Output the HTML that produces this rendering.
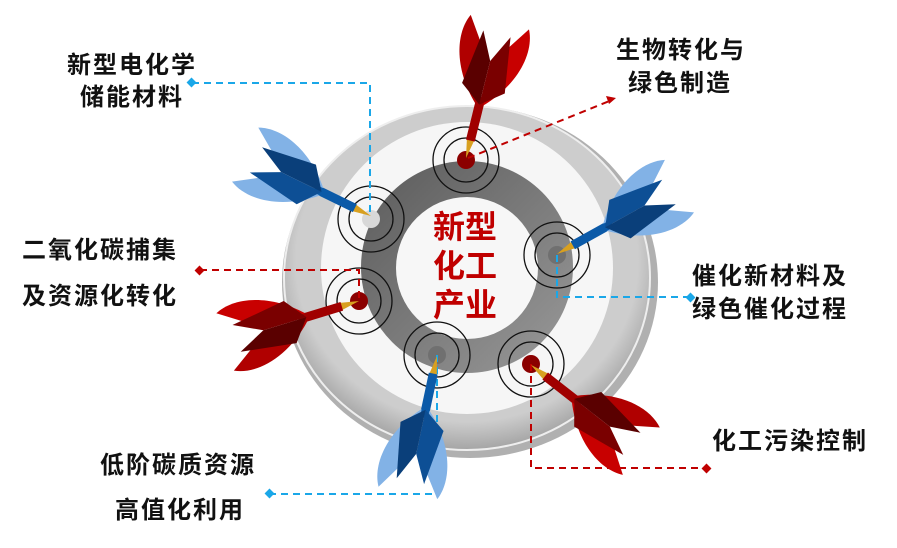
<!DOCTYPE html>
<html><head><meta charset="utf-8"><style>
html,body{margin:0;padding:0;background:#fff;}
svg{display:block}
.t{font-family:"Liberation Sans","Noto Sans CJK SC",sans-serif;font-weight:bold;font-size:24px;fill:#111;letter-spacing:2px}
.c{font-family:"Liberation Sans","Noto Sans CJK SC",sans-serif;font-weight:bold;font-size:32px;fill:#c00000}
</style></head><body>
<svg width="897" height="548" viewBox="0 0 897 548" xmlns="http://www.w3.org/2000/svg">
<defs>
<radialGradient id="outer" cx="50%" cy="45%" r="55%"><stop offset="0.85" stop-color="#cdcdcd"/><stop offset="1" stop-color="#a5a5a5"/></radialGradient>
<linearGradient id="dark" x1="0" y1="0" x2="1" y2="1"><stop offset="0" stop-color="#5a5a5a"/><stop offset="1" stop-color="#9a9a9a"/></linearGradient>
<g id="redDart">
<polygon points="0,0 20,-4 20,4" fill="#d8a020"/>
<rect x="18" y="-4.5" width="45" height="9" fill="#a00000"/>
<path d="M55,-4 C85,-34 120,-40 140,-30 L100,-3 Z" fill="#b00000"/>
<path d="M55,4 C85,34 120,40 140,30 L100,3 Z" fill="#c80000"/>
<path d="M55,0 L72,-22 L128,-14 L100,0 Z" fill="#5a0000"/>
<path d="M55,0 L72,22 L128,14 L100,0 Z" fill="#7a0000"/>
</g>
<g id="blueDart">
<polygon points="0,0 20,-4 20,4" fill="#d8a020"/>
<rect x="18" y="-4.5" width="45" height="9" fill="#0b5aa8"/>
<path d="M55,-4 C85,-34 120,-40 140,-30 L100,-3 Z" fill="#82b2e6"/>
<path d="M55,4 C85,34 120,40 140,30 L100,3 Z" fill="#82b2e6"/>
<path d="M55,0 L72,-22 L128,-14 L100,0 Z" fill="#0d4f95"/>
<path d="M55,0 L72,22 L128,14 L100,0 Z" fill="#0a3f7a"/>
</g>
</defs>
<ellipse cx="470" cy="282" rx="188" ry="176" fill="#b0b0b0"/>
<ellipse cx="467" cy="278" rx="183" ry="172" fill="url(#outer)" stroke="#eee" stroke-width="2"/>
<circle cx="467" cy="268" r="146" fill="#f6f6f6"/>
<circle cx="467" cy="267" r="106" fill="url(#dark)"/>
<circle cx="467" cy="268" r="71" fill="#f7f7f7"/>
<g fill="none" stroke="#111" stroke-width="1.3">
<circle cx="466" cy="160" r="33"/><circle cx="466" cy="160" r="22"/>
<circle cx="371" cy="219" r="33"/><circle cx="371" cy="219" r="22"/>
<circle cx="557" cy="255" r="33"/><circle cx="557" cy="255" r="22"/>
<circle cx="359" cy="301" r="33"/><circle cx="359" cy="301" r="22"/>
<circle cx="437" cy="355" r="33"/><circle cx="437" cy="355" r="22"/>
<circle cx="531" cy="364" r="33"/><circle cx="531" cy="364" r="22"/>
</g>
<circle cx="466" cy="160" r="9" fill="#8b0000"/>
<circle cx="371" cy="219" r="9" fill="#d8d8d8"/>
<circle cx="557" cy="255" r="9" fill="#707070"/>
<circle cx="359" cy="301" r="9" fill="#8b0000"/>
<circle cx="437" cy="355" r="9" fill="#707070"/>
<circle cx="531" cy="364" r="9" fill="#8b0000"/>
<text class="c" x="433" y="238">新型</text>
<text class="c" x="433" y="277">化工</text>
<text class="c" x="433" y="316">产业</text>
<g fill="none" stroke-width="2" stroke-dasharray="7,5">
<polyline points="192,83 370,83 370,213" stroke="#1aa7e8"/>
<polyline points="557,255 557,297 690,297" stroke="#1aa7e8"/>
<polyline points="437,355 437,494 270,494" stroke="#1aa7e8"/>
<polyline points="200,270 359,270 359,300" stroke="#c00000"/>
<polyline points="531,364 531,468 706,468" stroke="#c00000"/>
<polyline points="468,158 612,100" stroke="#c00000"/>
</g>
<g fill="#1aa7e8"><rect x="188" y="79" width="7" height="7" transform="rotate(45 191.5 82.5)"/><rect x="687" y="294" width="7" height="7" transform="rotate(45 690.5 297.5)"/><rect x="266" y="490" width="7" height="7" transform="rotate(45 269.5 493.5)"/></g>
<g fill="#c00000"><rect x="196" y="267" width="7" height="7" transform="rotate(45 199.5 270.5)"/><rect x="703" y="465" width="7" height="7" transform="rotate(45 706.5 468.5)"/><polygon points="616,98 606,96 609,104"/></g>
<use href="#redDart" transform="translate(466,158) rotate(-76)"/>
<use href="#blueDart" transform="translate(371,216) rotate(-154)"/>
<use href="#blueDart" transform="translate(557,254) rotate(-29)"/>
<use href="#redDart" transform="translate(359,301) rotate(163)"/>
<use href="#blueDart" transform="translate(437,356) rotate(102)"/>
<use href="#redDart" transform="translate(531,365) rotate(38)"/>
<text class="t" x="67" y="73">新型电化学</text>
<text class="t" x="80" y="105">储能材料</text>
<text class="t" x="616" y="58">生物转化与</text>
<text class="t" x="628" y="91">绿色制造</text>
<text class="t" x="22" y="258">二氧化碳捕集</text>
<text class="t" x="22" y="304">及资源化转化</text>
<text class="t" x="692" y="284">催化新材料及</text>
<text class="t" x="692" y="317">绿色催化过程</text>
<text class="t" x="712" y="449">化工污染控制</text>
<text class="t" x="100" y="473">低阶碳质资源</text>
<text class="t" x="115" y="518">高值化利用</text>
</svg>
</body></html>
